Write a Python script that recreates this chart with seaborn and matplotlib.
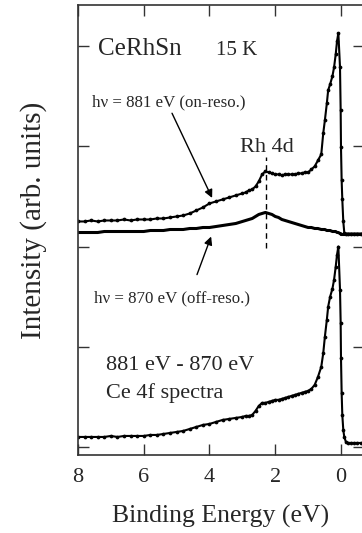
import numpy as np
import pandas as pd
import seaborn as sns
import matplotlib
matplotlib.use("Agg")
import matplotlib.pyplot as plt

# binding energy grid (eV)
energy = [8.0, 7.8, 7.6, 7.4, 7.2, 7.0, 6.8, 6.6, 6.4, 6.2, 6.0, 5.8, 5.6, 5.4, 5.2,
          5.0, 4.8, 4.6, 4.4, 4.2, 4.0, 3.8, 3.6, 3.4, 3.2, 3.0, 2.9, 2.8, 2.7, 2.6,
          2.5, 2.4, 2.3, 2.2, 2.1, 2.0, 1.9, 1.8, 1.7, 1.6, 1.5, 1.4, 1.3, 1.2, 1.1,
          1.0, 0.9, 0.8, 0.7, 0.6, 0.54, 0.49, 0.43, 0.39, 0.33, 0.26, 0.21, 0.16, 0.12,
          0.08, 0.03, 0.01, 0.0, -0.02, -0.04, -0.07, -0.10, -0.15, -0.2, -0.3, -0.4,
          -0.5, -0.6, -0.7]

# hv = 881 eV (on-resonance), offset spectrum
on_reso = [2.25, 2.25, 2.26, 2.25, 2.26, 2.26, 2.26, 2.27, 2.26, 2.27, 2.27, 2.27, 2.28, 2.28, 2.29,
           2.30, 2.31, 2.33, 2.36, 2.39, 2.43, 2.45, 2.47, 2.49, 2.51, 2.53, 2.54, 2.56, 2.57, 2.60,
           2.65, 2.72, 2.75, 2.74, 2.73, 2.72, 2.72, 2.71, 2.72, 2.72, 2.72, 2.72, 2.73, 2.73, 2.74,
           2.74, 2.77, 2.80, 2.86, 2.92, 3.13, 3.26, 3.43, 3.56, 3.62, 3.70, 3.79, 3.92, 4.05,
           4.13, 3.79, 3.36, 2.99, 2.66, 2.47, 2.25, 2.14, 2.13, 2.13, 2.13, 2.13,
           2.13, 2.13, 2.13]

# hv = 870 eV (off-resonance)
off_reso = [2.14, 2.14, 2.14, 2.14, 2.15, 2.15, 2.15, 2.15, 2.15, 2.15, 2.15, 2.16, 2.16, 2.16, 2.17,
            2.17, 2.17, 2.18, 2.18, 2.19, 2.19, 2.20, 2.21, 2.22, 2.23, 2.25, 2.26, 2.27, 2.28, 2.30,
            2.32, 2.33, 2.34, 2.33, 2.32, 2.30, 2.29, 2.27, 2.26, 2.25, 2.24, 2.23, 2.22, 2.21, 2.20,
            2.19, 2.19, 2.18, 2.18, 2.17, 2.17, 2.17, 2.16, 2.16, 2.16, 2.15, 2.15, 2.15, 2.14,
            2.14, 2.13, 2.13, 2.12, 2.12, 2.12, 2.12, 2.12, 2.12, 2.12, 2.12, 2.12,
            2.12, 2.12, 2.12]

# 881 eV - 870 eV difference (Ce 4f)
ce4f = [0.10, 0.10, 0.10, 0.10, 0.10, 0.11, 0.10, 0.11, 0.11, 0.11, 0.11, 0.12, 0.12, 0.13, 0.14,
        0.15, 0.16, 0.18, 0.20, 0.22, 0.23, 0.25, 0.27, 0.28, 0.29, 0.30, 0.31, 0.31, 0.32, 0.36,
        0.41, 0.44, 0.44, 0.45, 0.46, 0.47, 0.47, 0.48, 0.49, 0.50, 0.51, 0.52, 0.53, 0.54, 0.55,
        0.56, 0.58, 0.62, 0.70, 0.80, 0.935, 1.10, 1.27, 1.40, 1.50, 1.58, 1.67, 1.80, 1.92,
        2.00, 1.57, 1.24, 0.89, 0.54, 0.32, 0.17, 0.10, 0.05, 0.04, 0.04, 0.04,
        0.04, 0.04, 0.04]

df = pd.DataFrame({"energy": energy, "on": on_reso, "off": off_reso, "diff": ce4f})

sns.set_style("ticks")
plt.rcParams['font.family'] = ['Liberation Serif', 'DejaVu Serif']

fig = plt.figure(figsize=(3.62, 5.33), dpi=100)
ax = fig.add_axes([78 / 362, 78 / 533, 286 / 362, 450 / 533])

sns.lineplot(data=df, x="energy", y="on", ax=ax, color="black", lw=1.5,
             marker="o", markersize=2.7, markeredgewidth=0, estimator=None)
sns.lineplot(data=df, x="energy", y="off", ax=ax, color="black", lw=2.2, estimator=None)
sns.lineplot(data=df, x="energy", y="diff", ax=ax, color="black", lw=1.5,
             marker="o", markersize=2.7, markeredgewidth=0, estimator=None)

ax.set_xlim(8, -0.70)
ax.set_ylim(-0.08, 4.41)
ax.set_xticks([8, 6, 4, 2, 0])
ax.set_xticklabels(["8", "6", "4", "2", "0"])
ax.set_yticks([0, 1, 2, 3, 4])
ax.set_yticklabels([])
ax.tick_params(direction="in", top=True, right=True, length=8, width=1,
               labelsize=16, pad=9, color="#333333")
for s in ax.spines.values():
    s.set_linewidth(1.2)
    s.set_color("#333333")

ax.set_xlabel("Binding Energy (eV)", fontsize=18.5, labelpad=13)
ax.set_ylabel("Intensity (arb. units)", fontsize=21)
ax.yaxis.set_label_coords(-0.11, 0.522)

# Rh 4d marker
ax.plot([2.28, 2.28], [1.99, 2.89], color="black", lw=1, ls=(0, (4, 3)))

# annotations
ax.text(7.39, 3.91, "CeRhSn", fontsize=18)
ax.text(3.80, 3.91, "15 K", fontsize=15)
ax.text(7.57, 3.40, "hν = 881 eV (on-reso.)", fontsize=12.2)
ax.text(3.07, 2.94, "Rh 4d", fontsize=16)
ax.text(7.51, 1.44, "hν = 870 eV (off-reso.)", fontsize=12.2)
ax.text(7.15, 0.77, "881 eV - 870 eV", fontsize=16)
ax.text(7.15, 0.49, "Ce 4f spectra", fontsize=16)

arrow = dict(arrowstyle="-|>", color="black", lw=1, mutation_scale=12, shrinkA=0, shrinkB=0)
ax.annotate("", xy=(3.92, 2.485), xytext=(5.14, 3.33), arrowprops=arrow)
ax.annotate("", xy=(3.95, 2.10), xytext=(4.38, 1.72), arrowprops=arrow)

fig.savefig("out.png", dpi=100)
